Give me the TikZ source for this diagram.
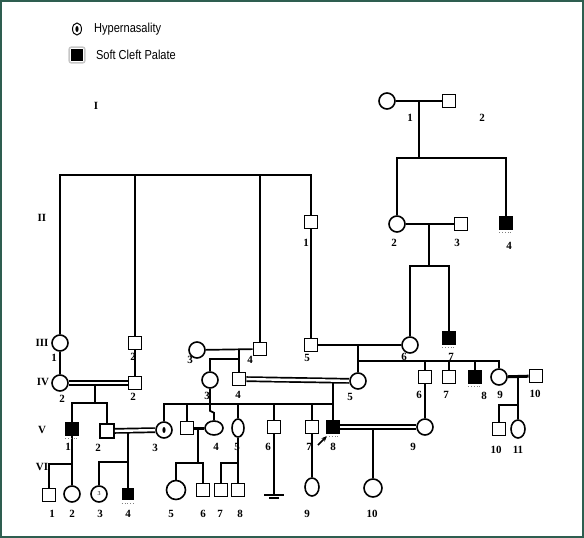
\documentclass[tikz,border=0pt]{standalone}
\usepackage{fontspec}
\setmainfont{Liberation Serif}
\newfontfamily\legendfont{Liberation Sans}
\usetikzlibrary{calc}
\usetikzlibrary{positioning}
\usetikzlibrary{shapes.geometric}
\usetikzlibrary{arrows.meta}

\definecolor{framegreen}{HTML}{2E5E50}

\tikzset{
  male/.style={rectangle, draw, line width=1.6pt, minimum size=13pt, inner sep=0pt, fill=white},
  female/.style={circle, draw, line width=1.6pt, minimum size=16pt, inner sep=0pt, fill=white},
  oval/.style={ellipse, draw, line width=1.6pt, inner sep=0pt, fill=white},
  affected/.style={male, fill=black, minimum size=12pt},
  hyp/.style={female, path picture={\fill[black] (path picture bounding box.center) ellipse (1.6pt and 3pt);}},
  num/.style={font=\bfseries\fontsize{11}{11}\selectfont, inner sep=0pt},
  link/.style={line width=1.7pt},
  kin/.style={double, double distance=2.4pt, line width=1.7pt},
  thickmar/.style={line width=3pt},
  uline/.style={gray, dotted, line width=0.8pt},
  keytext/.style={font=\legendfont\fontsize{13}{13}\selectfont, inner sep=0pt, anchor=west}
}

\begin{document}
\begin{tikzpicture}[x=1pt, y=-1pt]
    \useasboundingbox (0,0) rectangle (584,538);
    \draw [framegreen, line width=2pt] (1,1) rectangle (583,537);

    % key
    \node [hyp, ellipse, minimum width=9pt, minimum height=12pt, line width=1pt] (keyhyp) at (77,29) {};
    \node [keytext, right=12pt of keyhyp] (keyhyptext) {\scalebox{0.85}[1]{Hypernasality}};
    \node [affected, minimum size=10pt] (keyscp) at (77,55) {};
    \draw [gray!45, line width=1.5pt, rounded corners=2pt] ([shift={(-2pt,-2pt)}]keyscp.south west) rectangle ([shift={(2pt,2pt)}]keyscp.north east);
    \node [keytext, right=13pt of keyscp] (keyscptext) {\scalebox{0.85}[1]{Soft Cleft Palate}};

    % generations
    \node [num] (genI) at (96,106) {I};
    \node [num] (genII) at (42,218) {II};
    \node [num] (genIII) at (42,343) {III};
    \node [num] (genIV) at (43,382) {IV};
    \node [num] (genV) at (42,430) {V};
    \node [num] (genVI) at (42,467) {VI};

    % I
    \node [female] (I1) at (387,101) {};
    \node [male] (I2) at (449,101) {};
    % II
    \node [male] (II1) at (311,222) {};
    \node [female] (II2) at (397,224) {};
    \node [male] (II3) at (461,224) {};
    \node [affected] (II4) at (506,223) {};
    % III
    \node [female] (III1) at (60,343) {};
    \node [male] (III2) at (135,343) {};
    \node [female] (III3) at (197,350) {};
    \node [male] (III4) at (260,349) {};
    \node [male] (III5) at (311,345) {};
    \node [female] (III6) at (410,345) {};
    \node [affected] (III7) at (449,338) {};
    % IV
    \node [female] (IV1) at (60,383) {};
    \node [male] (IV2) at (135,383) {};
    \node [female] (IV3) at (210,380) {};
    \node [male] (IV4) at (239,379) {};
    \node [female] (IV5) at (358,381) {};
    \node [male] (IV6) at (425,377) {};
    \node [male] (IV7) at (449,377) {};
    \node [affected] (IV8) at (475,377) {};
    \node [female] (IV9) at (499,377) {};
    \node [male] (IV10) at (536,376) {};
    % V
    \node [affected] (V1) at (72,429) {};
    \node [male, minimum size=14pt] (V2) at (107,431) {};
    \node [hyp] (V3) at (164,430) {};
    \node [male] (Vsp) at (187,428) {};
    \node [oval, minimum width=18pt, minimum height=14pt] (V4) at (214,428) {};
    \node [oval, minimum width=12pt, minimum height=18pt] (V5) at (238,428) {};
    \node [male] (V6) at (274,427) {};
    \node [male] (V7) at (312,427) {};
    \node [affected] (V8) at (333,427) {};
    \node [female] (V9) at (425,427) {};
    \node [male] (V10) at (499,429) {};
    \node [oval, minimum width=14pt, minimum height=18pt] (V11) at (518,429) {};
    % VI
    \node [male] (VI1) at (49,495) {};
    \node [female] (VI2) at (72,494) {};
    \node [female, font=\fontsize{6}{6}\selectfont] (VI3) at (99,494) {3};
    \node [affected, minimum size=11pt] (VI4) at (128,494) {};
    \node [female, minimum size=19pt] (VI5) at (176,490) {};
    \node [male] (VI6) at (203,490) {};
    \node [male] (VI7) at (221,490) {};
    \node [male] (VI8) at (238,490) {};
    \node [oval, minimum width=14pt, minimum height=18pt] (VI9) at (312,487) {};
    \node [female, minimum size=18pt] (VI10) at (373,488) {};

    % junctions
    \coordinate (I12) at (419,101);
    \coordinate (sibI) at (419,158);
    \coordinate (famII) at (184,175);
    \coordinate (II23) at (429,224);
    \coordinate (sibII) at (429,266);
    \coordinate (III34) at (239,349);
    \coordinate (sibIII) at (239,359);
    \coordinate (III56) at (358,345);
    \coordinate (sibIIIb) at (358,361);
    \coordinate (IV12) at (95,386);
    \coordinate (sibIV) at (95,403);
    \coordinate (IV45) at (333,382);
    \coordinate (sibIVb) at (333,404);
    \coordinate (IV910) at (518,377);
    \coordinate (sibIVc) at (518,405);
    \coordinate (V1b) at (72,464);
    \coordinate (V23) at (128,433);
    \coordinate (sibV) at (128,462);
    \coordinate (VspV4) at (198,428);
    \coordinate (sibVb) at (198,463);
    \coordinate (sibVc) at (238,463);
    \coordinate (V89) at (373,430);
    \coordinate (ground) at (274,495);
    \coordinate (proband) at (318,445);

    % I -> II
    \draw [link] (I1) -- (I2);
    \draw [link] (I12) -- (sibI);
    \draw [link] (II2.north) |- (sibI) -| (II4.north);
    % II -> III
    \draw [link] (III1.north) |- (famII) -| (II1.north);
    \draw [link] (III2.north) -- (III2.north |- famII);
    \draw [link] (III4.north) -- (III4.north |- famII);
    \draw [link] (II1) -- (III5);
    \draw [link] (II2) -- (II3);
    \draw [link] (II23) -- (sibII);
    \draw [link] (III6.north) |- (sibII) -| (III7.north);
    % III -> IV
    \draw [link] (III1) -- (IV1);
    \draw [link] (III2) -- (IV2);
    \draw [link] (III3) -- (III4);
    \draw [link] (III34) -- (IV4.north);
    \draw [link] (IV3.north) |- (sibIII);
    \draw [link] (III5) -- (III6);
    \draw [link] (III56) -- (IV5.north);
    \draw [link] (sibIIIb) -| (IV9.north);
    \foreach \k in {IV6,IV7,IV8}
        \draw [link] (\k.north) -- (\k.north |- sibIIIb);
    % IV -> V
    \draw [kin] (IV1) -- (IV2);
    \draw [link] (IV12) -- (sibIV);
    \draw [link] (V1.north) |- (sibIV) -| (V2.north);
    \draw [kin] (IV4) -- (IV5);
    \draw [link] (IV45) -- (V8.north);
    \draw [link] (V3.north) |- (sibIVb);
    \foreach \k in {Vsp,V5,V6,V7}
        \draw [link] (\k.north) -- (\k.north |- sibIVb);
    \draw [link] (IV3.south) -- ++(0,22) -- ++(4,2) -- (V4.north);
    \draw [thickmar] (IV9) -- (IV10);
    \draw [link] (IV910) -- (V11.north);
    \draw [link] (V10.north) |- (sibIVc);
    \draw [link] (IV6) -- (V9);
    % V -> VI
    \draw [link] (V1) -- (VI2);
    \draw [link] (V1b) -| (VI1.north);
    \draw [kin] (V2) -- (V3);
    \draw [link] (V23) -- (VI4.north);
    \draw [link] (VI3.north) |- (sibV);
    \draw [thickmar] (Vsp) -- (V4);
    \draw [link] (VspV4) -- (sibVb);
    \draw [link] (VI5.north) |- (sibVb) -| (VI6.north);
    \draw [link] (V5) -- (VI8);
    \draw [link] (VI7.north) |- (sibVc);
    \draw [link] (V6) -- (ground);
    \draw [line width=1.8pt] ([xshift=-10pt]ground) -- ([xshift=10pt]ground);
    \draw [line width=1.4pt] ([shift={(-5pt,-3pt)}]ground) -- ([shift={(5pt,-3pt)}]ground);
    \draw [link] (V7) -- (VI9);
    \draw [kin] (V8) -- (V9);
    \draw [link] (V89) -- (VI10.north);
    \draw [-{Stealth[length=6pt]}, line width=1.5pt] (proband) -- ([shift={(1pt,-2pt)}]V8.south west);

    % carrier marks
    \foreach \k in {II4,III7,IV8,V1,V8,VI4}
        \draw [uline] ([yshift=-3pt]\k.south west) -- ([yshift=-3pt]\k.south east);

    % numbers
    \foreach \x/\y/\t in {410/118/1, 482/118/2,
        306/243/1, 394/243/2, 457/243/3, 509/246/4,
        54/358/1, 133/357/2, 190/360/3, 250/360/4, 307/358/5, 404/357/6, 451/357/7,
        62/399/2, 133/397/2, 207/396/3, 238/395/4, 350/397/5, 419/395/6, 446/395/7, 484/396/8, 500/395/9, 535/394/10,
        68/447/1, 98/448/2, 155/448/3, 216/447/4, 237/447/5, 268/447/6, 309/447/7, 333/447/8, 413/447/9, 496/450/10, 518/450/11,
        52/514/1, 72/514/2, 100/514/3, 128/514/4, 171/514/5, 203/514/6, 220/514/7, 240/514/8, 307/514/9, 372/514/10}
        \node [num] (n\x-\y) at (\x,\y) {\t};
\end{tikzpicture}
\end{document}
